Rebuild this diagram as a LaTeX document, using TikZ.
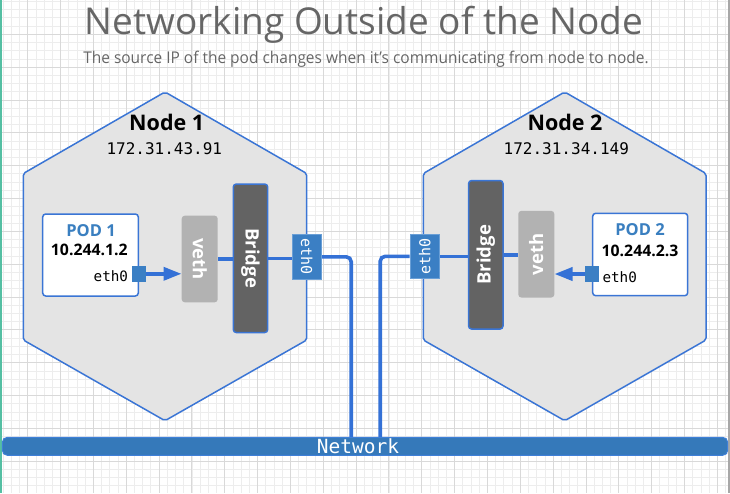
\documentclass[tikz,border=0pt]{standalone}
\usepackage{fontspec}
\setmainfont{Open Sans}
\newfontfamily\monof{DejaVu Sans Mono}
\usetikzlibrary{arrows.meta}
\pgfdeclarelayer{bglayer}
\pgfdeclarelayer{linelayer}
\pgfsetlayers{bglayer,linelayer,main}
\definecolor{gridminor}{HTML}{EDEDED}
\definecolor{gridmajor}{HTML}{D9D9D9}
\definecolor{hexfill}{HTML}{E4E4E4}
\definecolor{hexblue}{HTML}{3A75D5}
\definecolor{connblue}{HTML}{3471D6}
\definecolor{ethblue}{HTML}{3B7FC4}
\definecolor{ethedge}{HTML}{6A9FD6}
\definecolor{netfill}{HTML}{3579BA}
\definecolor{netedge}{HTML}{3F80D8}
\definecolor{vethgray}{HTML}{B2B2B2}
\definecolor{bridgegray}{HTML}{636363}
\definecolor{podblue}{HTML}{3A7FC0}
\definecolor{titlegray}{HTML}{666666}
\definecolor{tealedge}{HTML}{55BFA3}
\definecolor{rightedge}{HTML}{A8A8A8}
\tikzset{
  hexagon/.style={fill=hexfill, draw=hexblue, line width=1.5pt, rounded corners=2pt},
  conn/.style={draw=connblue, line width=3.6pt},
  podbox/.style={draw=hexblue, fill=white, line width=1.5pt, rounded corners=3pt, inner sep=0pt},
  ethsq/.style={fill=ethblue, inner sep=0pt, minimum width=14pt, minimum height=15.5pt},
  vethbox/.style={fill=vethgray, rounded corners=3pt, inner sep=0pt, minimum width=36pt, minimum height=86.6pt},
  bridgebox/.style={fill=bridgegray, draw=hexblue, line width=1.5pt, rounded corners=3pt, inner sep=0pt, minimum width=34.4pt, minimum height=148.5pt},
  nodeeth/.style={fill=ethblue, draw=ethedge, line width=0.6pt, inner sep=0pt, minimum width=29.5pt, minimum height=44.5pt},
  boxtxt/.style={text=white, font=\fontsize{18.5}{18.5}\selectfont\bfseries, inner sep=0pt},
  ethtxt/.style={text=white, font=\fontsize{15}{15}\selectfont\monof, inner sep=0pt},
  nodetitle/.style={font=\fontsize{21.5}{21.5}\selectfont\bfseries, inner sep=0pt},
  nodeip/.style={font=\fontsize{16}{16}\selectfont\monof, inner sep=0pt},
  podtitle/.style={text=podblue, font=\fontsize{16.5}{16.5}\selectfont\bfseries, inner sep=0pt},
  podip/.style={font=\fontsize{15.8}{15.8}\selectfont\bfseries, inner sep=0pt},
  podeth/.style={font=\fontsize{14.3}{14.3}\selectfont\monof, inner sep=0pt},
  arrowtip/.style={-{Triangle[length=18pt,width=13pt]}}
}
\begin{document}
\begin{tikzpicture}[x=1pt,y=-1pt]
\useasboundingbox (0,0) rectangle (730,493);
\begin{pgfonlayer}{bglayer}
\fill[white] (0,0) rectangle (730,493);
\foreach \i in {0,...,88} \draw[gridminor, line width=0.8pt] ({3.07+8.21*\i},0) -- ({3.07+8.21*\i},493);
\foreach \i in {0,...,59} \draw[gridminor, line width=0.8pt] (0,{1.46+8.21*\i}) -- (730,{1.46+8.21*\i});
\foreach \i in {0,...,21} \draw[gridmajor, line width=0.9pt] ({27.7+32.84*\i},0) -- ({27.7+32.84*\i},493);
\foreach \i in {0,...,14} \draw[gridmajor, line width=0.9pt] (0,{34.3+32.84*\i}) -- (730,{34.3+32.84*\i});
\fill[tealedge] (0,0) rectangle (2.2,493);
\fill[rightedge] (728,0) rectangle (730,493);
\draw[hexagon] (165,92) -- (306.7,173.5) -- (306.7,340) -- (165,420.7) -- (23.3,340) -- (23.3,173.5) -- cycle;
\draw[hexagon] (564.7,92) -- (706,173.5) -- (706,340) -- (564.7,420.7) -- (423.3,340) -- (423.3,173.5) -- cycle;
\end{pgfonlayer}

% titles
\node[text=titlegray, font=\fontsize{37}{37}\selectfont, anchor=base, inner sep=0pt] (title) at (364,34) {Networking Outside of the Node};
\node[text=titlegray, font=\fontsize{16.2}{16.2}\selectfont, anchor=base, inner sep=0pt] (subtitle) at (366,63) {\scalebox{0.955}[1]{The source IP of the pod changes when it's communicating from node to node.}};

\node[nodetitle] (n1title) at (166.7,122.7) {Node 1};
\node[nodeip] (n1ip) at (164.3,148.3) {172.31.43.91};
\node[nodetitle] (n2title) at (565,122.7) {Node 2};
\node[nodeip] (n2ip) at (566.3,148.3) {172.31.34.149};

% boxes
\node[podbox, minimum width=95.6pt, minimum height=82pt] (pod1) at (90.5,255) {};
\node[podbox, minimum width=95pt, minimum height=82.4pt] (pod2) at (640.2,254.5) {};
\node[vethbox] (veth1) at (199.7,259) {};
\node[vethbox] (veth2) at (536.3,254.2) {};
\node[bridgebox] (br1) at (250.5,258.3) {};
\node[bridgebox] (br2) at (485.8,254.8) {};
\node[nodeeth] (n1eth) at (306.7,256.8) {};
\node[nodeeth] (n2eth) at (424.7,256.3) {};
\node[ethsq] (p1eth) at (138.7,273.8) {};
\node[ethsq, minimum height=16.5pt] (p2eth) at (592.2,274) {};

\coordinate (drop1) at (351.2,438);
\coordinate (drop2) at (380.2,438);

% connectors, on a layer under the boxes
\begin{pgfonlayer}{linelayer}
\draw[conn] (veth1.east) -- (veth1.east -| br1.west);
\draw[conn] (br1.east) -- (br1.east -| n1eth.west);
\draw[conn, rounded corners=5pt] (n1eth.east) -| (drop1);
\draw[conn, rounded corners=5pt] (n2eth.west) -| (drop2);
\draw[conn] (n2eth.east) -- (n2eth.east -| br2.west);
\draw[conn] (br2.east) -- (br2.east -| veth2.west);
\draw[conn, arrowtip] (p1eth.east) -- (p1eth.east -| veth1.west);
\draw[conn, arrowtip] (p2eth.west) -- (p2eth.west -| veth2.east);
\end{pgfonlayer}

% box texts
\node[boxtxt, rotate=-90] (veth1txt) at (veth1.center) {veth};
\node[boxtxt, rotate=90] (veth2txt) at (veth2.center) {veth};
\node[boxtxt, rotate=-90] (br1txt) at (br1.center) {Bridge};
\node[boxtxt, rotate=90] (br2txt) at (br2.center) {Bridge};
\node[ethtxt, rotate=-90] (n1ethtxt) at (n1eth.center) {eth0};
\node[ethtxt, rotate=90] (n2ethtxt) at (n2eth.center) {eth0};

\node[podtitle] (p1title) at (91,230.7) {POD 1};
\node[podip] (p1ip) at (89.3,250) {10.244.1.2};
\node[podeth, anchor=east] (p1ethlbl) at (128.3,276) {eth0};
\node[podtitle] (p2title) at (640,230) {POD 2};
\node[podip] (p2ip) at (640,251) {10.244.2.3};
\node[podeth, anchor=west] (p2ethlbl) at (602.3,276.7) {eth0};

% network bar
\node[fill=netfill, draw=netedge, line width=1pt, rounded corners=5pt, minimum width=725.4pt, minimum height=18pt, inner sep=0pt] (net) at (365,446.3) {};
\node[text=white, font=\fontsize{19.5}{19.5}\selectfont\monof, inner sep=0pt] (nettxt) at (358,446.5) {Network};
\end{tikzpicture}
\end{document}
